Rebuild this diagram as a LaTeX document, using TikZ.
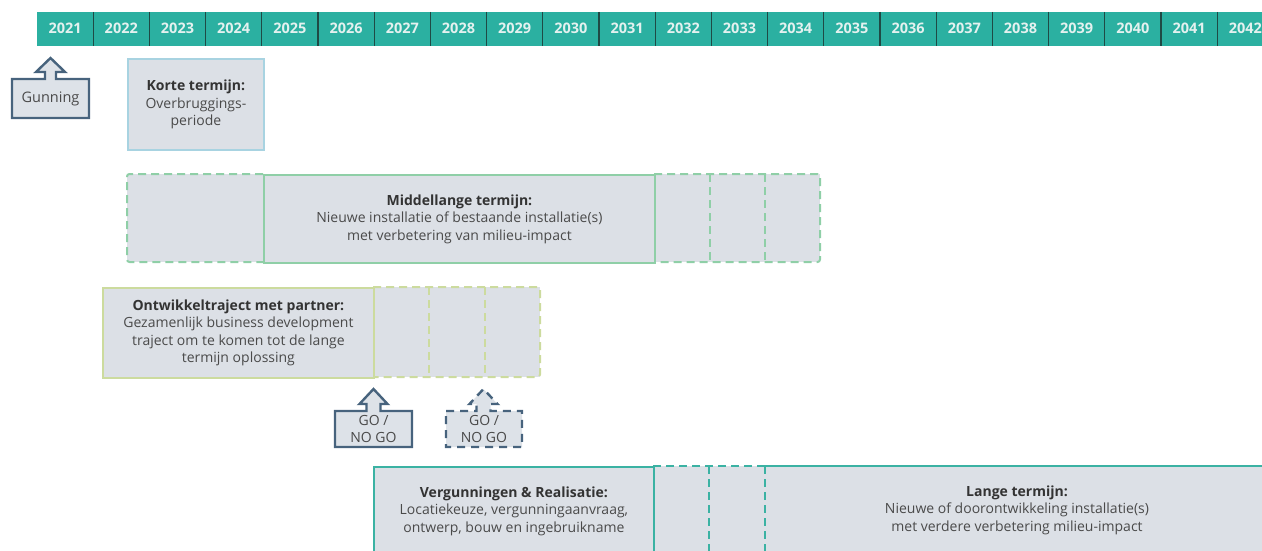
\documentclass[tikz,border=0pt]{standalone}
\usepackage{fontspec}
\setmainfont{Open Sans}
\definecolor{barteal}{HTML}{2BB0A1}
\definecolor{yeartxt}{HTML}{E4F1EF}
\definecolor{divider}{HTML}{1F4A45}
\definecolor{boxfill}{HTML}{DCE0E6}
\definecolor{kortecol}{HTML}{A8D3E1}
\definecolor{midgreen}{HTML}{8FCFA7}
\definecolor{olive}{HTML}{CCDB9E}
\definecolor{bteal}{HTML}{3BB2A3}
\definecolor{titletxt}{HTML}{333333}
\definecolor{bodytxt}{HTML}{4A4A4A}
\definecolor{callout}{HTML}{47637D}
\definecolor{callfill}{HTML}{DDE2E8}
\tikzset{
  yearlbl/.style={font=\bfseries\fontsize{14.5}{16}\selectfont, text=yeartxt, inner sep=0pt},
  boxtext/.style={align=center, font=\fontsize{14}{17.5}\selectfont, text=bodytxt, inner sep=0pt},
  solidbox/.style={draw=#1, fill=boxfill, line width=1.8pt, anchor=north west, inner sep=0pt,
     align=center, font=\fontsize{14}{17.5}\selectfont, text=bodytxt},
  dcell/.style={draw=#1, line width=2pt, dash pattern=on 8pt off 5pt, rounded corners=2.5pt},
  dline/.style={draw=#1, line width=2pt, dash pattern=on 8pt off 5pt},
  callbox/.style={draw=callout, fill=callfill, line width=2.4pt, line join=miter},
  calltext/.style={align=center, font=\fontsize{14}{17}\selectfont, text=bodytxt, inner sep=0pt},
}
\newcommand{\ttl}[1]{{\bfseries\color{titletxt}#1}}
\begin{document}
\begin{tikzpicture}[x=1pt,y=-1pt]
\useasboundingbox (0,0) rectangle (1262,551);
\clip (0,0) rectangle (1262,551);
% timeline bar
\fill[barteal] (37,12) rectangle (1290,46);
\foreach \i [evaluate=\i as \xc using 37+56.2*\i+28.1, evaluate=\i as \yr using int(2021+\i)] in {0,...,21}{
  \node[yearlbl] (y\yr) at (\xc,28.5) {\yr};
}
\foreach \i [evaluate=\i as \xd using 37+56.2*\i] in {1,...,21}{
  \draw[divider, line width=1.3pt] (\xd,12) -- (\xd,46);
}
% Gunning callout
\draw[callbox] (12,79) -- (45,79) -- (45,72) -- (36,72) -- (50.5,58) -- (65,72) -- (56,72) -- (56,79) -- (89,79) -- (89,118) -- (12,118) -- cycle;
\node[calltext, font=\fontsize{14.5}{17}\selectfont] (gunning) at (50.5,98.5) {Gunning};
% Korte termijn
\node[solidbox=kortecol, minimum width=136pt, minimum height=91pt] (korte) at (127,58)
  {\ttl{Korte termijn:}\\Overbruggings-\\periode};
% Middellange termijn
\fill[boxfill] (127,174) rectangle (820,262);
\draw[dcell=midgreen] (263,174) -- (127,174) -- (127,262) -- (263,262);
\draw[dcell=midgreen] (654,174) -- (820,174) -- (820,262) -- (654,262);
\draw[dline=midgreen] (710,174) -- (710,262);
\draw[dline=midgreen] (765,174) -- (765,262);
\node[solidbox=midgreen, minimum width=391pt, minimum height=88pt] (mid) at (263,174)
  {\ttl{Middellange termijn:}\\Nieuwe installatie of bestaande installatie(s)\\met verbetering van milieu-impact};
% Ontwikkeltraject
\fill[boxfill] (373,287) rectangle (540,377);
\draw[dcell=olive] (373,287) -- (540,287) -- (540,377) -- (373,377);
\draw[dline=olive] (429,287) -- (429,377);
\draw[dline=olive] (485,287) -- (485,377);
\node[solidbox=olive, minimum width=271pt, minimum height=90pt] (ontw) at (102,287)
  {\ttl{Ontwikkeltraject met partner:}\\Gezamenlijk business development\\traject om te komen tot de lange\\termijn oplossing};
% GO / NO GO callouts
\draw[callbox] (335,411) -- (366.5,411) -- (366.5,404) -- (359.5,404) -- (373.5,389) -- (387.5,404) -- (380.5,404) -- (380.5,411) -- (412,411) -- (412,447) -- (335,447) -- cycle;
\node[calltext] (go1) at (373.5,429) {GO /\\NO GO};
\draw[callbox, dash pattern=on 8pt off 6pt] (446,411) -- (476.5,411) -- (476.5,404) -- (469.5,404) -- (483.5,389) -- (497.5,404) -- (490.5,404) -- (490.5,411) -- (522,411) -- (522,447) -- (446,447) -- cycle;
\node[calltext] (go2) at (484,429) {GO /\\NO GO};
% Bottom row
\fill[boxfill] (653,466) rectangle (1290,560);
\draw[dline=bteal] (653,466) -- (765,466);
\draw[dline=bteal] (709,466) -- (709,560);
\draw[dline=bteal] (765,466) -- (765,560);
\node[solidbox=bteal, minimum width=280pt, minimum height=88pt] (verg) at (373,466)
  {\ttl{Vergunningen \& Realisatie:}\\Locatiekeuze, vergunningaanvraag,\\ontwerp, bouw en ingebruikname};
\draw[bteal, line width=1.8pt] (765,466) -- (1290,466);
\node[boxtext] (lange) at (1017,510)
  {\ttl{Lange termijn:}\\Nieuwe of doorontwikkeling installatie(s)\\met verdere verbetering milieu-impact};
\end{tikzpicture}
\end{document}
